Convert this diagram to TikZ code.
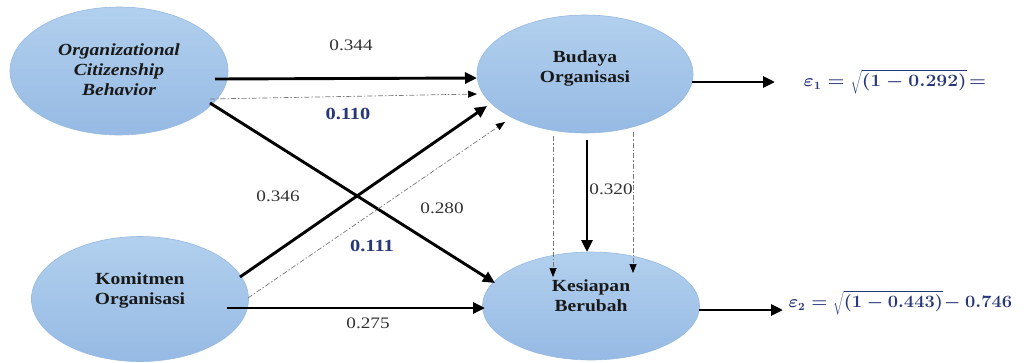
\documentclass[tikz,border=0pt]{standalone}
\usepackage{fontspec}
\usepackage{graphicx}
\setmainfont{Liberation Serif}
\usetikzlibrary{shapes.geometric,arrows.meta,calc}
\newcommand{\hstretchtxt}[2]{\scalebox{#1}[1]{\begin{tabular}{@{}c@{}}#2\end{tabular}}}
\definecolor{elltop}{RGB}{178,208,238}
\definecolor{ellbot}{RGB}{150,186,228}
\definecolor{ellborder}{RGB}{150,185,225}
\definecolor{nodetxt}{RGB}{25,25,25}
\definecolor{coeftxt}{RGB}{50,50,50}
\definecolor{coefblue}{RGB}{40,55,120}
\definecolor{dashgray}{RGB}{120,120,120}
\tikzset{
  latent/.style={ellipse, draw=ellborder, line width=0.6pt, top color=elltop, bottom color=ellbot, inner sep=0pt},
  nodetext/.style={font=\fontsize{17}{20}\selectfont\bfseries, text=nodetxt, inner sep=0pt},
  coef/.style={font=\fontsize{16}{18}\selectfont, text=coeftxt},
  coefb/.style={font=\fontsize{17}{18}\selectfont\bfseries, text=coefblue},
  mainarrow/.style={line width=2.9pt, -{Triangle[length=12pt,width=11pt]}},
  indarrow/.style={draw=dashgray, line width=0.7pt, dash pattern=on 5pt off 2pt on 1.5pt off 2pt, -{Triangle[length=9pt,width=7pt,color=black]}},
  errtext/.style={font=\fontsize{16}{18}\selectfont\bfseries, text=coefblue, anchor=west}
}
\begin{document}
\begin{tikzpicture}[x=1pt,y=-1pt]
\useasboundingbox (0,0) rectangle (1024,362);
% latent variables
\node[latent, minimum width=218pt, minimum height=128pt] (ocb) at (119,71) {};
\node[latent, minimum width=216pt, minimum height=118pt] (bud) at (585,74) {};
\node[latent, minimum width=217pt, minimum height=125pt] (kom) at (140,299) {};
\node[latent, minimum width=217pt, minimum height=108pt] (kes) at (591,306) {};
% texts
\node[nodetext, font=\fontsize{17}{20}\selectfont\bfseries\itshape] (ocbt) at ($(ocb)+(0,0)$) {\hstretchtxt{1.15}{Organizational\\Citizenship\\Behavior}};
\node[nodetext] (budt) at ($(bud)+(0,-6)$) {\hstretchtxt{1.15}{Budaya\\Organisasi}};
\node[nodetext] (komt) at ($(kom)+(0,-9)$) {\hstretchtxt{1.15}{Komitmen\\Organisasi}};
\node[nodetext] (kest) at ($(kes)+(0,-9)$) {\hstretchtxt{1.15}{Kesiapan\\Berubah}};
% direct paths
\draw[mainarrow] ($(ocb)+(96,8)$) -- ($(bud)+(-108,4)$);
\draw[indarrow] ($(ocb)+(91,28)$) -- ($(bud)+(-108,20)$);
\draw[mainarrow] ($(ocb)+(91,32)$) -- ($(kes)+(-96,-23)$);
\draw[mainarrow] ($(kom)+(100,-22)$) -- ($(bud)+(-98,32)$);
\draw[indarrow] ($(kom)+(108,-1)$) -- ($(bud)+(-80,48)$);
\draw[mainarrow] ($(kom)+(87,9)$) -- ($(kes)+(-106,2)$);
\draw[mainarrow] ($(bud)+(2,66)$) -- ($(kes)+(-4,-54)$);
\draw[indarrow] ($(bud)+(-32,62)$) -- ($(kes)+(-38,-29)$);
\draw[indarrow] ($(bud)+(48,58)$) -- ($(kes)+(42,-33)$);
% errors
\coordinate (e1) at (775,82);
\coordinate (e2) at (783,310);
\draw[mainarrow] ($(bud)+(107,8)$) -- (e1);
\draw[mainarrow] ($(kes)+(108,4)$) -- (e2);
\node[errtext] (eq1) at (800,82) {\scalebox{1.12}[1]{\boldmath$\varepsilon_{1} = \sqrt{(1-0.292)}\!=$}};
\node[errtext] (eq2) at (785,303) {\scalebox{1.06}[1]{\boldmath$\varepsilon_{2} = \sqrt{(1-0.443)}\!-0.746$}};
% coefficients
\node[coef] (c344) at (351,47) {\hstretchtxt{1.2}{0.344}};
\node[coefb] (c110) at (348,116) {\hstretchtxt{1.2}{0.110}};
\node[coef] (c346) at (278,198) {\hstretchtxt{1.2}{0.346}};
\node[coef] (c280) at (442,210) {\hstretchtxt{1.2}{0.280}};
\node[coefb] (c111) at (372,248) {\hstretchtxt{1.2}{0.111}};
\node[coef] (c275) at (368,325) {\hstretchtxt{1.2}{0.275}};
\node[coef] (c320) at (611,191) {\hstretchtxt{1.2}{0.320}};
\end{tikzpicture}
\end{document}
